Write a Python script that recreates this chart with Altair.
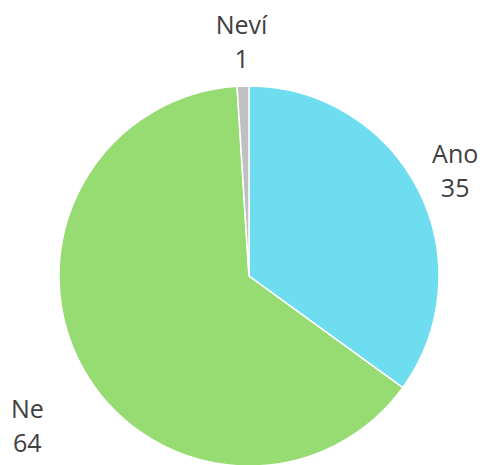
import altair as alt
import pandas as pd
import math

categories = ["Ano", "Ne", "Neví"]
values = [35, 64, 1]
colors = ["#6EDDF0", "#96DC73", "#C0C0C0"]

df = pd.DataFrame({"cat": categories, "val": values, "ord": [0, 1, 2]})

tscale = alt.Scale(domain=[0, 100], range=[0, 2 * math.pi])

base = alt.Chart(df).transform_window(
    cum="sum(val)", sort=[alt.SortField("ord")], frame=[None, 0]
).transform_calculate(
    start="datum.cum - datum.val",
    mid="datum.cum - datum.val / 2",
    label="datum.cat + '\\n' + datum.val",
).encode(x=alt.value(241), y=alt.value(268))

pie = base.mark_arc(radius=190, stroke="white", strokeWidth=1.5).encode(
    theta=alt.Theta("start:Q", scale=tscale),
    theta2="cum:Q",
    color=alt.Color("cat:N", scale=alt.Scale(domain=categories, range=colors), legend=None),
)

txt_style = dict(radius=237, font="Open Sans", fontSize=25, lineBreak="\n",
                 lineHeight=34, color="#404040", align="center", baseline="middle")

offsets = {"Ano": (-5, -13), "Ne": (-14, 20), "Neví": (0, -13)}
label_layers = [
    base.transform_filter(alt.datum.cat == c)
    .mark_text(dx=offsets[c][0], dy=offsets[c][1], **txt_style)
    .encode(theta=alt.Theta("mid:Q", scale=tscale), text="label:N")
    for c in categories
]

chart = alt.layer(pie, *label_layers).properties(
    width=470, height=457, padding=0, autosize=alt.AutoSizeParams(type="none")
).configure_view(stroke=None)

chart.save("out.html", embed_options={"renderer": "svg", "actions": False})
